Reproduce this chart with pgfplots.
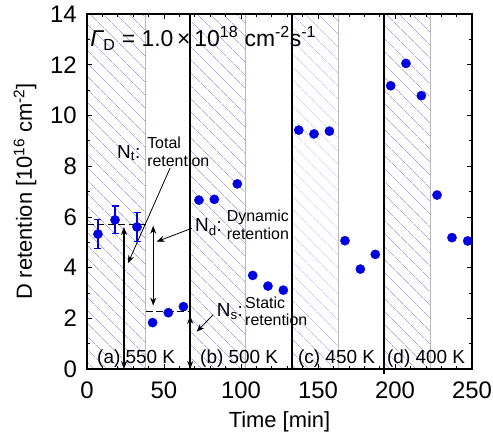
\documentclass[border=0pt]{standalone}
\usepackage{fontspec}
\setmainfont{Liberation Sans}
\usepackage{pgfplots}
\pgfplotsset{compat=1.18}
\usetikzlibrary{patterns.meta,arrows.meta}
\definecolor{hatch}{RGB}{165,165,240}
\definecolor{ptblue}{RGB}{0,0,225}
\definecolor{sepgray}{RGB}{185,185,185}
\begin{document}
\begin{tikzpicture}
\begin{axis}[
  width=385bp, height=355bp, scale only axis,
  xmin=0, xmax=250, ymin=0, ymax=14,
  xtick={0,50,...,250}, ytick={0,2,...,14},
  minor x tick num=4, minor y tick num=1,
  tick align=inside, major tick length=5bp, minor tick length=3bp,
  tick style={black, line width=0.6bp},
  axis line style={line width=1.6bp},
  ticklabel style={font=\fontsize{24}{24}\selectfont, inner sep=1bp},
  xticklabel style={yshift=-12bp},
  yticklabel style={xshift=-9bp},
  /pgf/number format/assume math mode=true,
  xlabel={Time [min]},
  ylabel={D retention [10\textsuperscript{16} cm\textsuperscript{-2}]},
  label style={font=\fontsize{22}{22}\selectfont},
  xlabel style={at={(axis description cs:0.5,-0.148)}, anchor=center},
  ylabel style={at={(axis description cs:-0.161,0.5)}, anchor=center},
  clip=false,
  axis on top,
]
% hatched regions
\addplot[draw=none, pattern={Lines[angle=-45,distance=9.5bp,line width=0.55bp]}, pattern color=hatch] coordinates {(0,0)(0,14)(38,14)(38,0)} -- cycle;
\addplot[draw=none, pattern={Lines[angle=-45,distance=9.5bp,line width=0.55bp]}, pattern color=hatch] coordinates {(67,0)(67,14)(103,14)(103,0)} -- cycle;
\addplot[draw=none, pattern={Lines[angle=-45,distance=9.5bp,line width=0.55bp]}, pattern color=hatch] coordinates {(133,0)(133,14)(163,14)(163,0)} -- cycle;
\addplot[draw=none, pattern={Lines[angle=-45,distance=9.5bp,line width=0.55bp]}, pattern color=hatch] coordinates {(193,0)(193,14)(223,14)(223,0)} -- cycle;
% gray separators
\addplot[sepgray, line width=0.8bp] coordinates {(38,0)(38,14)};
\addplot[sepgray, line width=0.8bp] coordinates {(103,0)(103,14)};
\addplot[sepgray, line width=0.8bp] coordinates {(163,0)(163,14)};
\addplot[sepgray, line width=0.8bp] coordinates {(223,0)(223,14)};
% black separators
\addplot[black, line width=1.8bp] coordinates {(67,0)(67,14)};
\addplot[black, line width=1.8bp] coordinates {(133,0)(133,14)};
\addplot[black, line width=1.8bp] coordinates {(193,-0.2)(193,14)};
% dashed levels
\addplot[black, line width=1.6bp, dash pattern=on 7bp off 3.5bp] coordinates {(0,5.7)(38,5.7)};
\addplot[black, line width=1.6bp, dash pattern=on 7bp off 3.5bp] coordinates {(38,2.27)(67,2.27)};
% double arrows
\addplot[black, line width=1.1bp, {Stealth[length=8bp,width=6bp]}-{Stealth[length=8bp,width=6bp]}] coordinates {(24,0)(24,5.6)};
\addplot[black, line width=1.1bp, {Stealth[length=8bp,width=6bp]}-{Stealth[length=8bp,width=6bp]}] coordinates {(43,2.5)(43,5.65)};
\addplot[black, line width=1.1bp, {Stealth[length=8bp,width=6bp]}-{Stealth[length=8bp,width=6bp]}] coordinates {(67,0)(67,2.1)};
% pointers
\addplot[black, line width=0.8bp, -{Stealth[length=8bp,width=6bp]}] coordinates {(54,7.93)(26.6,4.17)};
\addplot[black, line width=0.8bp, -{Stealth[length=8bp,width=6bp]}] coordinates {(68,5.55)(45.2,5.02)};
\addplot[black, line width=0.8bp, -{Stealth[length=8bp,width=6bp]}] coordinates {(81.7,2.13)(71.2,1.47)};
% data with error bars
\addplot[only marks, mark=*, mark size=4.6bp, ptblue,
  error bars/.cd, y dir=both, y explicit,
  error bar style={line width=1.2bp, ptblue},
  error mark options={rotate=90, mark size=3.5bp, line width=1.2bp, ptblue}]
  coordinates {(7.1,5.32) +- (0,0.57) (18.2,5.88) +- (0,0.55) (32.5,5.60) +- (0,0.57)};
\addplot[only marks, mark=*, mark size=4.6bp, ptblue] coordinates {
(42.6,1.83) (52.8,2.22) (62.6,2.46)
(72.7,6.66) (82.7,6.69) (97.6,7.30)
(107.6,3.69) (117.5,3.27) (127.5,3.11)
(137.5,9.42) (147.4,9.27) (157.4,9.38)
(167.5,5.06) (177.5,3.94) (187.2,4.52)
(197.2,11.17) (207.1,12.05) (217.1,10.78)
(227.3,6.86) (237,5.18) (247.2,5.05)};
% texts
\node[anchor=base west, inner sep=0, font=\fontsize{23}{23}\selectfont] at (axis cs:2,12.7) {{\itshape Γ}\textsubscript{D} = 1.0\,×\,10\textsuperscript{18} cm\textsuperscript{-2}s\textsuperscript{-1}};
\node[anchor=base west, inner sep=0, font=\fontsize{19}{19}\selectfont] at (axis cs:19.5,8.32) {N\textsubscript{t}:};
\node[anchor=base west, inner sep=0, font=\fontsize{16}{16}\selectfont] at (axis cs:39,8.71) {Total};
\node[anchor=base west, inner sep=0, font=\fontsize{16}{16}\selectfont] at (axis cs:39,8.0) {retention};
\node[anchor=base west, inner sep=0, font=\fontsize{19}{19}\selectfont] at (axis cs:70.1,5.41) {N\textsubscript{d}:};
\node[anchor=base west, inner sep=0, font=\fontsize{16}{16}\selectfont] at (axis cs:90.7,5.81) {Dynamic};
\node[anchor=base west, inner sep=0, font=\fontsize{16}{16}\selectfont] at (axis cs:90.7,5.09) {retention};
\node[anchor=base west, inner sep=0, font=\fontsize{19}{19}\selectfont] at (axis cs:84.2,2.06) {N\textsubscript{s}:};
\node[anchor=base west, inner sep=0, font=\fontsize{16}{16}\selectfont] at (axis cs:102.6,2.39) {Static};
\node[anchor=base west, inner sep=0, font=\fontsize{16}{16}\selectfont] at (axis cs:102.6,1.73) {retention};
\node[anchor=base west, inner sep=0, font=\fontsize{19}{19}\selectfont] at (axis cs:6.5,0.2) {(a) 550 K};
\node[anchor=base west, inner sep=0, font=\fontsize{19}{19}\selectfont] at (axis cs:73.4,0.2) {(b) 500 K};
\node[anchor=base west, inner sep=0, font=\fontsize{19}{19}\selectfont] at (axis cs:137,0.2) {(c) 450 K};
\node[anchor=base west, inner sep=0, font=\fontsize{19}{19}\selectfont] at (axis cs:194.8,0.2) {(d) 400 K};
\coordinate (sw) at (rel axis cs:0,0);
\coordinate (ne) at (rel axis cs:1,1);
\end{axis}
\path ([shift={(-87bp,-61bp)}]sw) rectangle ([shift={(21bp,14bp)}]ne);
\end{tikzpicture}
\end{document}
